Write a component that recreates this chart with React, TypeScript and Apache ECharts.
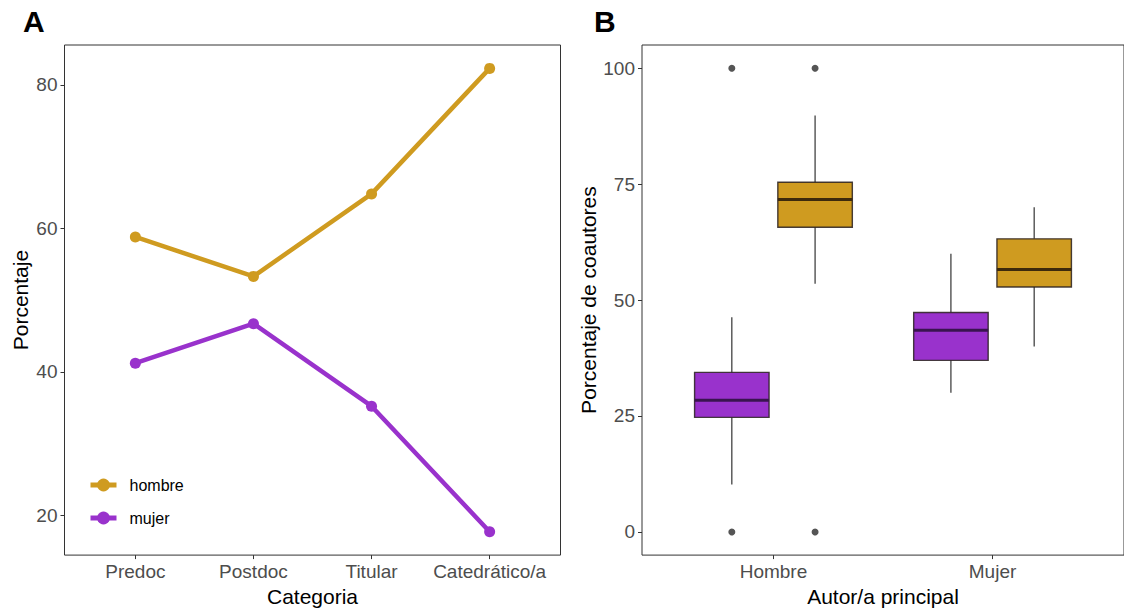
import React, { useEffect, useRef } from "react";
import * as echarts from "echarts";

// ---------- Data ----------
const categories = ["Predoc", "Postdoc", "Titular", "Catedrático/a"];
const hombrePct = [58.8, 53.3, 64.8, 82.3];
const mujerPct = [41.2, 46.7, 35.2, 17.7];

const autorGroups = ["Hombre", "Mujer"];
// boxplot stats per lead-author group: [lowerWhisker, Q1, median, Q3, upperWhisker]
const mujerCoautBox = [
  [10.2, 24.7, 28.4, 34.4, 46.3],
  [30.0, 37.0, 43.5, 47.3, 60.0],
];
const hombreCoautBox = [
  [53.5, 65.7, 71.7, 75.4, 89.8],
  [40.0, 52.8, 56.6, 63.2, 70.0],
];
// outliers: [groupIndex, value]
const mujerCoautOutliers = [
  [0, 0],
  [0, 100],
];
const hombreCoautOutliers = [
  [0, 0],
  [0, 100],
];

const yTicksA = [20, 40, 60, 80];
const yTicksB = [0, 25, 50, 75, 100];

const GOLD = "#CF9B20";
const PURPLE = "#9932CC";
const FONT = "'Liberation Sans', Arial, sans-serif";
const TICK_COLOR = "#4D4D4D";
const FRAME = "#333333";

const DODGE = 0.19;
const HALF_W = 0.17;

function boxSeries(name: string, stats: number[][], color: string, offset: number, median: string) {
  return {
    type: "custom",
    name,
    xAxisIndex: 1,
    yAxisIndex: 1,
    data: stats.map((s, i) => [i + 1 + offset, ...s]),
    encode: { x: 0, y: [1, 2, 3, 4, 5] },
    renderItem: (params: any, api: any) => {
      const x = api.value(0);
      const lo = api.value(1);
      const q1 = api.value(2);
      const med = api.value(3);
      const q3 = api.value(4);
      const hi = api.value(5);
      const pLo = api.coord([x, lo]);
      const pHi = api.coord([x, hi]);
      const pQ1L = api.coord([x - HALF_W, q1]);
      const pQ3R = api.coord([x + HALF_W, q3]);
      const pMedL = api.coord([x - HALF_W, med]);
      const pMedR = api.coord([x + HALF_W, med]);
      const pQ1 = api.coord([x, q1]);
      const pQ3 = api.coord([x, q3]);
      return {
        type: "group",
        children: [
          {
            type: "line",
            shape: { x1: pHi[0], y1: pHi[1], x2: pQ3[0], y2: pQ3[1] },
            style: { stroke: FRAME, lineWidth: 1.2 },
          },
          {
            type: "line",
            shape: { x1: pLo[0], y1: pLo[1], x2: pQ1[0], y2: pQ1[1] },
            style: { stroke: FRAME, lineWidth: 1.2 },
          },
          {
            type: "rect",
            shape: {
              x: pQ1L[0],
              y: pQ3R[1],
              width: pQ3R[0] - pQ1L[0],
              height: pQ1L[1] - pQ3R[1],
            },
            style: { fill: color, stroke: "rgba(40,30,30,0.85)", lineWidth: 1.4 },
          },
          {
            type: "line",
            shape: { x1: pMedL[0], y1: pMedL[1], x2: pMedR[0], y2: pMedR[1] },
            style: { stroke: median, lineWidth: 3 },
          },
        ],
      };
    },
  };
}

export default function App() {
  const ref = useRef<HTMLDivElement>(null);

  useEffect(() => {
    if (!ref.current) return;
    const chart = echarts.init(ref.current, null, { renderer: "svg" });

    const tickLabel = { color: TICK_COLOR, fontSize: 19, fontFamily: FONT };
    const nameStyle = { color: "#000", fontSize: 21, fontFamily: FONT };

    chart.setOption({
      animation: false,
      backgroundColor: "#fff",
      textStyle: { fontFamily: FONT },
      grid: [
        { left: 64.5, top: 45, width: 496, height: 512, show: true, borderColor: FRAME, borderWidth: 1, backgroundColor: "transparent" },
        { left: 642, top: 45, width: 483, height: 512, show: true, borderColor: FRAME, borderWidth: 1, backgroundColor: "transparent" },
      ],
      xAxis: [
        {
          type: "value",
          gridIndex: 0,
          min: 0.4,
          max: 4.6,
          name: "Categoria",
          nameLocation: "middle",
          nameGap: 30,
          nameTextStyle: nameStyle,
          axisLine: { show: false, onZero: false },
          axisTick: { show: true, length: 4, lineStyle: { color: FRAME }, customValues: [1, 2, 3, 4] },
          axisLabel: {
            ...tickLabel,
            margin: 7,
            customValues: [1, 2, 3, 4],
            formatter: (v: number) => categories[Math.round(v) - 1] ?? "",
          },
          splitLine: { show: false },
        },
        {
          type: "value",
          gridIndex: 1,
          min: 0.4,
          max: 2.6,
          name: "Autor/a principal",
          nameLocation: "middle",
          nameGap: 30,
          nameTextStyle: nameStyle,
          axisLine: { show: false, onZero: false },
          axisTick: { show: true, length: 4, lineStyle: { color: FRAME }, customValues: [1, 2] },
          axisLabel: {
            ...tickLabel,
            margin: 7,
            customValues: [1, 2],
            formatter: (v: number) => autorGroups[Math.round(v) - 1] ?? "",
          },
          splitLine: { show: false },
        },
      ],
      yAxis: [
        {
          type: "value",
          gridIndex: 0,
          min: 14.44,
          max: 85.56,
          name: "Porcentaje",
          nameLocation: "middle",
          nameGap: 34,
          nameTextStyle: nameStyle,
          axisLine: { show: false, onZero: false },
          axisTick: { show: true, length: 4, lineStyle: { color: FRAME }, customValues: yTicksA },
          axisLabel: { ...tickLabel, margin: 7, customValues: yTicksA },
          splitLine: { show: false },
        },
        {
          type: "value",
          gridIndex: 1,
          min: -5,
          max: 105,
          name: "Porcentaje de coautores",
          nameLocation: "middle",
          nameGap: 43,
          nameTextStyle: nameStyle,
          axisLine: { show: false, onZero: false },
          axisTick: { show: true, length: 4, lineStyle: { color: FRAME }, customValues: yTicksB },
          axisLabel: { ...tickLabel, margin: 7, customValues: yTicksB },
          splitLine: { show: false },
        },
      ],
      legend: {
        data: ["hombre", "mujer"],
        orient: "vertical",
        left: 83,
        top: 472,
        itemWidth: 26,
        itemHeight: 16,
        itemGap: 17,
        lineStyle: { width: 5 },
        textStyle: { color: "#000", fontSize: 16, fontFamily: FONT, padding: [0, 0, 0, 8] },
      },
      graphic: [
        { type: "text", left: 23, top: 6, style: { text: "A", fontSize: 30, fontWeight: "bold", fontFamily: FONT, fill: "#000" } },
        { type: "text", left: 594, top: 6, style: { text: "B", fontSize: 30, fontWeight: "bold", fontFamily: FONT, fill: "#000" } },
      ],
      series: [
        {
          type: "line",
          name: "hombre",
          xAxisIndex: 0,
          yAxisIndex: 0,
          data: hombrePct.map((v, i) => [i + 1, v]),
          symbol: "circle",
          symbolSize: 11,
          lineStyle: { width: 4.5, color: GOLD },
          itemStyle: { color: GOLD },
        },
        {
          type: "line",
          name: "mujer",
          xAxisIndex: 0,
          yAxisIndex: 0,
          data: mujerPct.map((v, i) => [i + 1, v]),
          symbol: "circle",
          symbolSize: 11,
          lineStyle: { width: 4.5, color: PURPLE },
          itemStyle: { color: PURPLE },
        },
        boxSeries("mujer coautores", mujerCoautBox, PURPLE, -DODGE, "#3A1450"),
        boxSeries("hombre coautores", hombreCoautBox, GOLD, DODGE, "#3D2A0C"),
        {
          type: "scatter",
          name: "outliers mujer",
          xAxisIndex: 1,
          yAxisIndex: 1,
          data: mujerCoautOutliers.map(([g, v]) => [g + 1 - DODGE, v]),
          symbolSize: 7,
          itemStyle: { color: "#2B2B2B" },
        },
        {
          type: "scatter",
          name: "outliers hombre",
          xAxisIndex: 1,
          yAxisIndex: 1,
          data: hombreCoautOutliers.map(([g, v]) => [g + 1 + DODGE, v]),
          symbolSize: 7,
          itemStyle: { color: "#2B2B2B" },
        },
      ],
    });

    return () => chart.dispose();
  }, []);

  return (
    <div
      ref={ref}
      style={{ position: "fixed", left: 0, top: 0, width: 1124, height: 612, background: "#fff" }}
    />
  );
}
